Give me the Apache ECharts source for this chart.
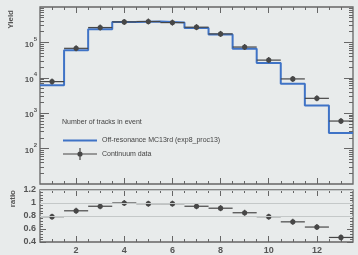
<!DOCTYPE html>
<html>
<head>
<meta charset="utf-8">
<script src="https://cdn.jsdelivr.net/npm/echarts@6/dist/echarts.min.js"></script>
<style>
  html, body { margin: 0; padding: 0; background: #e8ebeb; }
  #chart { width: 358px; height: 255px; }
</style>
</head>
<body>
<div id="chart"></div>
<script>
// bin centres: number of tracks in event
const bins = [1, 2, 3, 4, 5, 6, 7, 8, 9, 10, 11, 12, 13];
// continuum data yield
const dataYield = [7800, 68000, 263000, 380000, 389000, 363000, 269000, 174000, 74000, 31600, 9300, 2630, 600];
// off-resonance MC yield
const mcYield = [6200, 60000, 235000, 380000, 389000, 363000, 257000, 166000, 66000, 26300, 6800, 1660, 275];
// MC / data
const ratio = [0.79, 0.88, 0.95, 1.0, 0.99, 0.99, 0.95, 0.92, 0.85, 0.79, 0.71, 0.63, 0.47];

const xMajor = [2, 4, 6, 8, 10, 12];
const xMinor = [1, 1.5, 2.5, 3, 3.5, 4.5, 5, 5.5, 6.5, 7, 7.5, 8.5, 9, 9.5, 10.5, 11, 11.5, 12.5, 13];
const yDecades = [100, 1000, 10000, 100000];
const ratioLines = [0.8, 1, 1.2];

const mcName = 'Off-resonance MC13rd (exp8_proc13)';
const dataName = 'Continuum data';

const frameColor = '#666';
const labelColor = '#555';
const markColor = '#474747';
const blue = '#3f73c6';
const font = 'Liberation Sans';

// log minor ticks 2..9 in each decade
let yMinor = [];
[10, 100, 1000, 10000, 100000].forEach((d) => {
  for (let k = 2; k <= 9; k++) yMinor.push(d * k);
});

let chart = echarts.init(document.getElementById('chart'));

function tickAxis(extra, values, length) {
  return Object.assign({
    splitLine: {show: false},
    axisLine: {show: false, onZero: false},
    axisTick: {show: true, inside: true, length: length, customValues: values, lineStyle: {color: frameColor, width: 1}},
    axisLabel: {show: false}
  }, extra);
}

function xAxes(gridIndex, withLabels) {
  const base = {gridIndex: gridIndex, type: 'value', min: 0.5, max: 13.5};
  let major = tickAxis(Object.assign({position: 'bottom'}, base), xMajor, 6);
  if (withLabels) {
    major.axisLabel = {show: true, customValues: xMajor, margin: 4, fontSize: 9, fontFamily: font, fontWeight: 'bold', color: labelColor};
  }
  return [
    major,
    tickAxis(Object.assign({position: 'bottom'}, base), xMinor, 3),
    tickAxis(Object.assign({position: 'top'}, base), xMajor, 6),
    tickAxis(Object.assign({position: 'top'}, base), xMinor, 3)
  ];
}

const logBase = {gridIndex: 0, type: 'log', min: 10, max: 1000000, logBase: 10};
let yLogMajor = tickAxis(Object.assign({position: 'left'}, logBase), yDecades, 9);
yLogMajor.axisLabel = {
  show: true, customValues: yDecades, margin: 3,
  formatter: (v) => '{b|10}{s|' + Math.round(Math.log10(v)) + '}',
  rich: {
    b: {fontSize: 8, fontFamily: font, fontWeight: 'bold', color: labelColor, verticalAlign: 'bottom', lineHeight: 12},
    s: {fontSize: 6, fontFamily: font, fontWeight: 'bold', color: labelColor, verticalAlign: 'top', lineHeight: 12}
  }
};

const ratioBase = {gridIndex: 1, type: 'value', min: 0.4, max: 1.2, interval: 0.2};
let yRatioLeft = {
  position: 'left',
  splitLine: {show: false},
  axisLine: {show: false, onZero: false},
  axisTick: {show: true, inside: true, length: 6, lineStyle: {color: frameColor}},
  minorTick: {show: true, splitNumber: 5, length: 3, lineStyle: {color: frameColor}},
  axisLabel: {show: true, margin: 4, fontSize: 9, fontFamily: font, fontWeight: 'bold', color: labelColor}
};
let yRatioRight = Object.assign({}, yRatioLeft, {position: 'right', axisLabel: {show: false}});

function renderPoint(params, api) {
  const x = api.value(0);
  const y = api.value(1);
  const c = api.coord([x, y]);
  const l = api.coord([x - 0.5, y]);
  const r = api.coord([x + 0.5, y]);
  const style = {stroke: markColor, lineWidth: 1.2};
  return {
    type: 'group',
    children: [
      {type: 'line', shape: {x1: l[0], y1: l[1], x2: r[0], y2: r[1]}, style: style},
      {type: 'line', shape: {x1: c[0], y1: c[1] - 3, x2: c[0], y2: c[1] + 3}, style: style},
      {type: 'circle', shape: {cx: c[0], cy: c[1], r: 2.6}, style: {fill: markColor}}
    ]
  };
}

// histogram edges for the step line
let mcSteps = mcYield.map((v, i) => [bins[i] - 0.5, v]);
mcSteps.push([bins[bins.length - 1] + 0.5, mcYield[mcYield.length - 1]]);

chart.setOption({
  backgroundColor: '#e8ebeb',
  animation: false,
  title: {
    text: 'Number of tracks in event',
    left: 57, top: 114,
    textStyle: {fontSize: 7, fontWeight: 'normal', fontFamily: font, color: '#444'}
  },
  legend: {
    orient: 'vertical',
    left: 58, top: 132,
    itemWidth: 34, itemHeight: 12, itemGap: 4,
    textStyle: {fontSize: 7, fontFamily: font, color: '#444'},
    data: [
      {name: mcName, icon: 'path://M0,0 L34,0 L34,2 L0,2 Z'},
      {name: dataName, icon: 'path://M0,5.4 L34,5.4 L34,6.6 L0,6.6 Z M16.4,0 L17.6,0 L17.6,12 L16.4,12 Z M19.6,6 A2.6,2.6 0 1 1 14.4,6 A2.6,2.6 0 1 1 19.6,6 Z'}
    ]
  },
  graphic: [
    {type: 'text', left: 7, top: 10, rotation: Math.PI / 2,
      style: {text: 'Yield', fontSize: 8, fontFamily: font, fontWeight: 'bold', fill: labelColor}},
    {type: 'text', left: 9, top: 190, rotation: Math.PI / 2,
      style: {text: 'ratio', fontSize: 8, fontFamily: font, fontWeight: 'bold', fill: labelColor}}
  ],
  grid: [
    {left: 40, right: 5, top: 7, height: 177, show: true, borderColor: frameColor, borderWidth: 1.3, backgroundColor: 'transparent'},
    {left: 40, right: 5, top: 190, height: 58, show: true, borderColor: frameColor, borderWidth: 1.3, backgroundColor: 'transparent'}
  ],
  xAxis: xAxes(0, false).concat(xAxes(1, true)),
  yAxis: [
    yLogMajor,
    tickAxis(Object.assign({position: 'left'}, logBase), yMinor, 4),
    tickAxis(Object.assign({position: 'right'}, logBase), yDecades, 9),
    tickAxis(Object.assign({position: 'right'}, logBase), yMinor, 4),
    Object.assign({}, ratioBase, yRatioLeft),
    Object.assign({}, ratioBase, yRatioRight)
  ],
  series: [
    {
      name: mcName,
      type: 'line',
      xAxisIndex: 0, yAxisIndex: 0,
      step: 'end',
      symbol: 'none',
      data: mcSteps,
      color: blue,
      lineStyle: {color: blue, width: 2},
      z: 2
    },
    {
      name: dataName,
      type: 'custom',
      xAxisIndex: 0, yAxisIndex: 0,
      renderItem: renderPoint,
      encode: {x: 0, y: 1},
      itemStyle: {color: markColor},
      data: bins.map((b, i) => [b, dataYield[i]]),
      z: 3
    },
    {
      name: 'ratio',
      type: 'custom',
      xAxisIndex: 4, yAxisIndex: 4,
      renderItem: renderPoint,
      encode: {x: 0, y: 1},
      itemStyle: {color: markColor},
      data: bins.map((b, i) => [b, ratio[i]]),
      markLine: {
        silent: true,
        symbol: 'none',
        label: {show: false},
        lineStyle: {color: '#c4c8c8', width: 1, type: 'solid'},
        data: ratioLines.map((v) => ({yAxis: v}))
      },
      z: 3
    }
  ]
});
</script>
</body>
</html>
